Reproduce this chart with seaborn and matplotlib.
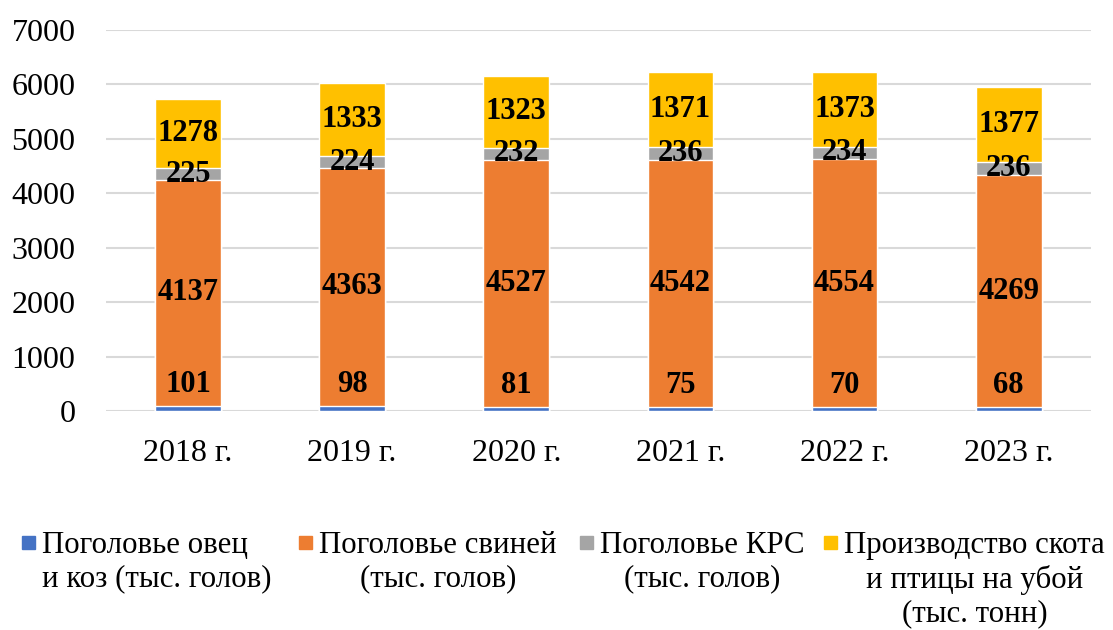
import pandas as pd
import matplotlib
matplotlib.use('Agg')
import matplotlib.pyplot as plt
import seaborn as sns
from matplotlib.patches import Rectangle

years = ['2018 г.', '2019 г.', '2020 г.', '2021 г.', '2022 г.', '2023 г.']
sheep_goats = [101, 98, 81, 75, 70, 68]
pigs = [4137, 4363, 4527, 4542, 4554, 4269]
cattle = [225, 224, 232, 236, 234, 236]
slaughter = [1278, 1333, 1323, 1371, 1373, 1377]

series_names = ['Поголовье овец\nи коз (тыс. голов)',
                'Поголовье свиней\n(тыс. голов)',
                'Поголовье КРС\n(тыс. голов)',
                'Производство скота\nи птицы на убой\n(тыс. тонн)']
colors = ['#4472C4', '#ED7D31', '#A5A5A5', '#FFC000']

data = pd.DataFrame({'year': years, 's1': sheep_goats, 's2': pigs,
                     's3': cattle, 's4': slaughter})
data['c1'] = data['s1']
data['c2'] = data['c1'] + data['s2']
data['c3'] = data['c2'] + data['s3']
data['c4'] = data['c3'] + data['s4']

sns.set_style('white')
plt.rcParams['font.family'] = ['Liberation Serif', 'DejaVu Serif']
plt.rcParams['text.color'] = 'black'
plt.rcParams['xtick.color'] = 'black'
plt.rcParams['ytick.color'] = 'black'

fig = plt.figure(figsize=(11.13, 6.3), dpi=100)
ax = fig.add_axes([0.0952, 0.3476, 0.8848, 0.6048])

# stacked look: draw cumulative totals from the tallest down
for i in [4, 3, 2, 1]:
    sns.barplot(data=data, x='year', y='c%d' % i, color=colors[i - 1],
                width=0.4, saturation=1, ax=ax, zorder=2)

ax.set_ylim(0, 7000)
ax.set_yticks(range(0, 7001, 1000))
ax.yaxis.grid(True, color='#D9D9D9', linewidth=1.5, zorder=0)
ax.set_axisbelow(True)
for s in ax.spines.values():
    s.set_visible(False)
ax.set_xlabel('')
ax.set_ylabel('')
ax.tick_params(axis='y', length=0, pad=22, labelsize=23)
ax.tick_params(axis='x', length=0, pad=20, labelsize=23)

# value labels
for j in range(len(years)):
    ax.annotate(str(sheep_goats[j]), (j, sheep_goats[j] / 2),
                xytext=(0, 17), textcoords='offset points',
                ha='center', va='center', fontsize=22, fontweight='bold',
                color='black')
    bottoms = [data['c1'][j], data['c2'][j], data['c3'][j]]
    vals = [pigs[j], cattle[j], slaughter[j]]
    for b, v in zip(bottoms, vals):
        ax.text(j, b + v / 2, str(v), ha='center', va='center',
                fontsize=22, fontweight='bold', color='black', zorder=5)

# legend at the bottom, handles aligned with the first line
leg_x = [22, 299, 580, 824]
for k in range(4):
    x0 = leg_x[k] / 1113
    fig.patches.append(Rectangle((x0, 1 - 549 / 630), 13 / 1113, 13 / 630,
                                 transform=fig.transFigure,
                                 color=colors[k]))
    fig.text(x0 + 20 / 1113, 1 - 531 / 630, series_names[k], fontsize=22.2,
             ha='left', va='top', multialignment='left' if k == 0 else 'center',
             linespacing=1.2, color='black')

fig.savefig('out.png', dpi=100)
